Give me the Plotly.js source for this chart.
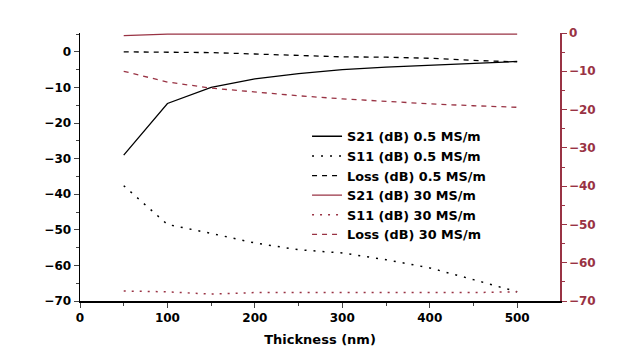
<!DOCTYPE html>
<html><head><meta charset="utf-8">
<script src="https://cdn.plot.ly/plotly-3.0.1.min.js"></script>
<style>html,body{margin:0;padding:0;background:#fff}#c{width:640px;height:360px}</style>
</head><body><div id="c"></div>
<script>
const thickness = [50, 100, 150, 200, 250, 300, 350, 400, 450, 500];
const s21Low  = [-29, -14.5, -10, -7.6, -6.1, -5.0, -4.3, -3.7, -3.2, -2.7];
const s11Low  = [-37.6, -48.5, -51, -53.7, -55.6, -56.5, -58.4, -60.7, -64, -67.4];
const lossLow = [0, 0, -0.2, -0.6, -1.1, -1.4, -1.5, -1.8, -2.4, -2.8];
const s21High = [-0.7, -0.3, -0.3, -0.3, -0.3, -0.3, -0.3, -0.3, -0.3, -0.3];
const s11High = [-67.4, -67.6, -68.2, -67.8, -67.8, -67.8, -67.8, -67.8, -67.8, -67.6];
const lossHigh = [-10, -12.8, -14.4, -15.4, -16.4, -17.2, -17.9, -18.5, -19.0, -19.4];
const names = ["S21 (dB) 0.5 MS/m", "S11 (dB) 0.5 MS/m", "Loss (dB) 0.5 MS/m",
               "S21 (dB) 30 MS/m", "S11 (dB) 30 MS/m", "Loss (dB) 30 MS/m"];

const red = '#993344';
const font = 'DejaVu Sans, sans-serif';
const traces = [
  {x: thickness, y: s21Low, name: names[0], mode: 'lines', line: {color: '#000', width: 1.3}},
  {x: thickness, y: s11Low, name: names[1], mode: 'lines', line: {color: '#000', width: 1.5, dash: '2px,7px'}},
  {x: thickness, y: lossLow, name: names[2], mode: 'lines', line: {color: '#000', width: 1.3, dash: '5px,5px'}},
  {x: thickness, y: s21High, name: names[3], mode: 'lines', yaxis: 'y2', line: {color: red, width: 1.3}},
  {x: thickness, y: s11High, name: names[4], mode: 'lines', yaxis: 'y2', line: {color: red, width: 1.5, dash: '2px,6px'}},
  {x: thickness, y: lossHigh, name: names[5], mode: 'lines', yaxis: 'y2', line: {color: red, width: 1.3, dash: '5px,5px'}}
];
const layout = {
  width: 640, height: 360,
  margin: {l: 80, r: 80, t: 33, b: 59},
  paper_bgcolor: '#fff', plot_bgcolor: '#fff',
  font: {family: font, color: '#000'},
  showlegend: true,
  legend: {x: 0.473, y: 0.67, xanchor: 'left', yanchor: 'top', bgcolor: 'rgba(0,0,0,0)',
           font: {size: 12.8, weight: 'bold', family: font}, tracegroupgap: 0},
  xaxis: {range: [0, 549], tickvals: [0, 100, 200, 300, 400, 500], ticks: 'outside', ticklen: 5,
          showline: true, linecolor: '#000', linewidth: 1.5, showgrid: false, zeroline: false,
          minor: {tickvals: [50, 150, 250, 350, 450], ticks: 'outside', ticklen: 3},
          tickfont: {size: 12, weight: 'bold'},
          title: {text: 'Thickness (nm)', font: {size: 13, weight: 'bold'}, standoff: 11}},
  yaxis: {range: [-70, 5.3], tickvals: [0, -10, -20, -30, -40, -50, -60, -70], ticks: 'outside', ticklen: 5,
          showline: true, linecolor: '#000', linewidth: 1.5, showgrid: false, zeroline: false,
          minor: {tickvals: [5, -5, -15, -25, -35, -45, -55, -65], ticks: 'outside', ticklen: 3},
          tickfont: {size: 12, weight: 'bold'}},
  yaxis2: {overlaying: 'y', side: 'right', range: [-70, 0],
           tickvals: [0, -10, -20, -30, -40, -50, -60, -70], ticks: 'outside', ticklen: 5,
           showline: true, linecolor: red, linewidth: 1.5, tickcolor: red, showgrid: false, zeroline: false,
           minor: {tickvals: [-5, -15, -25, -35, -45, -55, -65], ticks: 'outside', ticklen: 3, tickcolor: red},
           tickfont: {size: 12, weight: 'bold', color: red}}
};
Plotly.newPlot('c', traces, layout, {staticPlot: true, displayModeBar: false});
</script></body></html>
